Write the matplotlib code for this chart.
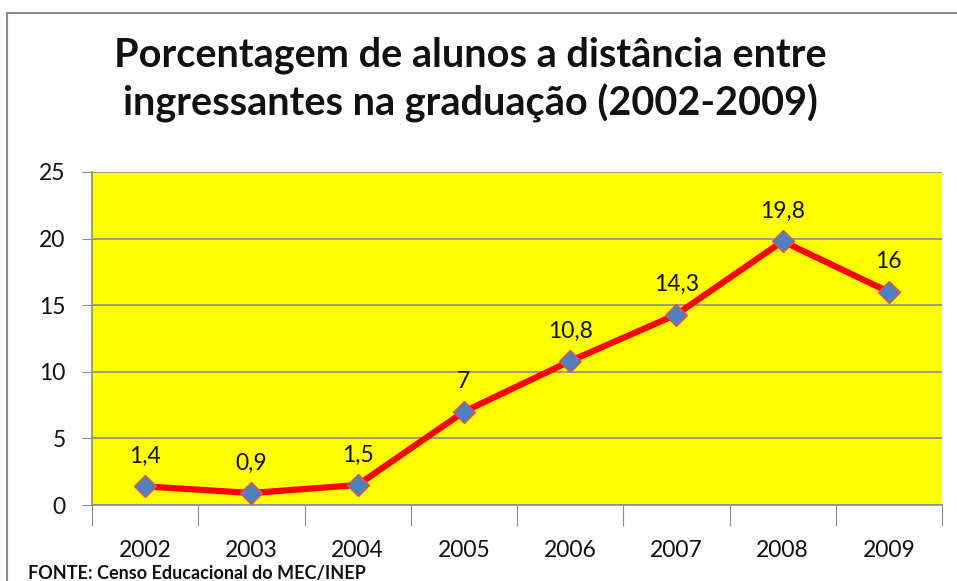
import matplotlib
matplotlib.use("Agg")
import matplotlib.pyplot as plt
from matplotlib.patches import Rectangle
import numpy as np

years = ["2002", "2003", "2004", "2005", "2006", "2007", "2008", "2009"]
values = [1.4, 0.9, 1.5, 7, 10.8, 14.3, 19.8, 16]
labels = ["1,4", "0,9", "1,5", "7", "10,8", "14,3", "19,8", "16"]
yticks = [0, 5, 10, 15, 20, 25]

FONT = "Lato"
W, H = 957, 581
fig = plt.figure(figsize=(W / 100, H / 100), dpi=100)
fig.patch.set_facecolor("white")

# outer frame
fig.patches.append(Rectangle((7 / W, -0.1), 1.2, (H - 13) / H + 0.1, transform=fig.transFigure,
                             fill=False, edgecolor="#8c8c8c", linewidth=1.5))

ax = fig.add_axes([92 / W, 1 - 505 / H, (942 - 92) / W, (505 - 172) / H])
ax.set_facecolor("#ffff00")
x = np.arange(len(years))
ax.plot(x, values, color="#ff0000", linewidth=4.5, zorder=3,
        marker="D", markersize=11, markerfacecolor="#4f81bd", markeredgecolor="#e05050",
        markeredgewidth=1)
for xi, v, lab in zip(x, values, labels):
    ax.annotate(lab, (xi, v), xytext=(0, 14), textcoords="offset points",
                ha="center", va="bottom", fontsize=16.5, family=FONT, color="#111111")

ax.set_xlim(-0.5, len(years) - 0.5)
ax.set_ylim(0, 25)
ax.set_yticks(yticks)
ax.set_yticklabels([str(t) for t in yticks], fontsize=16.5, family=FONT, color="#111111")
ax.yaxis.grid(True, color="#8c8c8c", linewidth=1.2)
ax.set_axisbelow(True)
ax.tick_params(axis="y", length=7, color="#8c8c8c", pad=12)

ax.set_xticks(np.arange(-0.5, len(years), 1.0))
ax.set_xticklabels([])
ax.set_xticks(x, minor=True)
ax.set_xticklabels(years, minor=True, fontsize=16.5, family=FONT, color="#111111")
ax.tick_params(axis="x", which="major", length=15, color="#8c8c8c")
ax.tick_params(axis="x", which="minor", length=0, pad=25)

for s in ["top", "right"]:
    ax.spines[s].set_visible(False)
ax.spines["left"].set_color("#8c8c8c")
ax.spines["bottom"].set_color("#8c8c8c")
ax.spines["left"].set_linewidth(1.2)
ax.spines["bottom"].set_linewidth(1.2)

fig.text(470 / W, 1 - 55 / H, "Porcentagem de alunos a distância entre", ha="center", va="center",
         fontsize=28.5, fontweight="bold", family=FONT, color="#111111")
fig.text(470 / W, 1 - 103 / H, "ingressantes na graduação (2002-2009)", ha="center", va="center",
         fontsize=28.5, fontweight="bold", family=FONT, color="#111111")
fig.text(28 / W, 1 - 573 / H, "FONTE: Censo Educacional do MEC/INEP", ha="left", va="center",
         fontsize=13, fontweight="bold", family=FONT, color="#111111")

fig.savefig("out.png", dpi=100)
